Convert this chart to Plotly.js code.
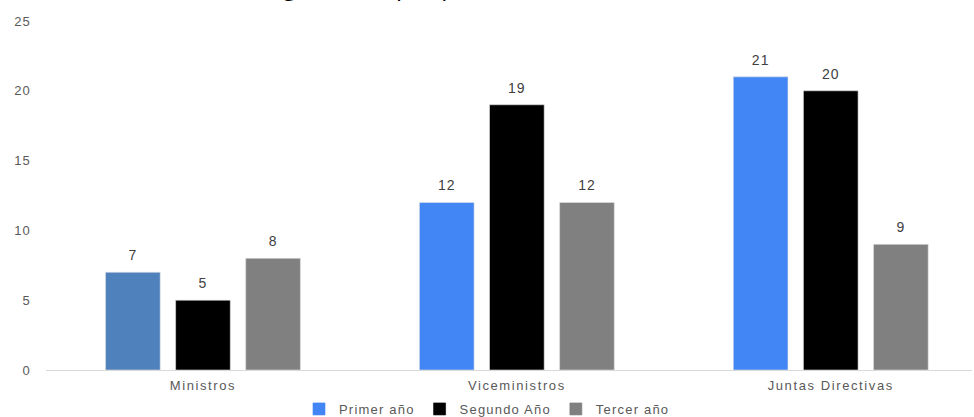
<!DOCTYPE html>
<html>
<head>
<meta charset="utf-8">
<script src="https://cdn.plot.ly/plotly-3.0.1.min.js"></script>
<style>
html,body{margin:0;padding:0;background:#fff;overflow:hidden}
.xtick text{letter-spacing:1.6px}
.ytick text{letter-spacing:1.2px}
.legendtext{letter-spacing:1.2px}
.bartext{letter-spacing:1px}
</style>
</head>
<body>
<div id="chart" style="width:974px;height:417px"></div>
<script>
const categories = ["Ministros", "Viceministros", "Juntas Directivas"];
const seriesNames = ["Primer año", "Segundo Año", "Tercer año"];
const primerAnio = [7, 12, 21];
const segundoAnio = [5, 19, 20];
const tercerAnio = [8, 12, 9];
const yTicks = [0, 5, 10, 15, 20, 25];
const titleText = "Nombramientos en el gobierno, por período";

const primerColors = ["#4F81BD", "#4285F4", "#4285F4"];
const legendColors = ["#4285F4", "#000000", "#808080"];
const FONT = "Liberation Sans, Arial, sans-serif";

function bar(name, values, color) {
  return {
    type: "bar",
    name: name,
    x: categories,
    y: values,
    text: values.map(String),
    textposition: "outside",
    textfont: {family: FONT, size: 14, color: "#404040"},
    cliponaxis: false,
    marker: {color: color, line: {color: "#e0e0e0", width: 0.6}},
    hoverinfo: "x+y+name"
  };
}

const data = [
  bar(seriesNames[0], primerAnio, primerColors),
  bar(seriesNames[1], segundoAnio, "#000000"),
  bar(seriesNames[2], tercerAnio, "#808080")
];

const layout = {
  width: 974,
  height: 417,
  margin: {l: 46, r: 2, t: 21, b: 47},
  paper_bgcolor: "#ffffff",
  plot_bgcolor: "#ffffff",
  barmode: "group",
  bargap: 0.33,
  bargroupgap: 0.22,
  font: {family: FONT, size: 13, color: "#595959"},
  showlegend: true,
  legend: {
    orientation: "h",
    x: 0.5, xanchor: "center", xref: "container",
    y: 1 - 409 / 417, yanchor: "middle", yref: "container",
    font: {family: FONT, size: 13, color: "#595959"},
    itemwidth: 30,
    tracegroupgap: 0
  },
  xaxis: {
    type: "category",
    range: [-0.5, 2.45],
    showline: true,
    linecolor: "#d9d9d9",
    linewidth: 1,
    ticks: "",
    ticklabelstandoff: 3,
    showgrid: false,
    zeroline: false,
    tickfont: {family: FONT, size: 13, color: "#595959"}
  },
  yaxis: {
    range: [0, 25],
    tickvals: yTicks,
    ticktext: yTicks.map(String),
    showgrid: false,
    zeroline: false,
    showline: false,
    ticks: "",
    ticklabelstandoff: 14,
    tickfont: {family: FONT, size: 13, color: "#595959"}
  },
  annotations: [{
    text: titleText,
    xref: "paper", yref: "paper",
    x: 0.254, xanchor: "center",
    y: 1.05, yanchor: "bottom",
    showarrow: false,
    font: {family: "Open Sans, sans-serif", size: 24, color: "#000000"}
  }]
};

Plotly.newPlot("chart", data, layout, {displayModeBar: false, staticPlot: true}).then(function (gd) {
  // lift value labels a little further above bars
  gd.querySelectorAll(".bartext").forEach(function (t) {
    const tr = t.getAttribute("transform") || "";
    t.setAttribute("transform", "translate(0,-6) " + tr);
  });
  // legend swatches in series main colours
  gd.querySelectorAll(".legend .traces").forEach(function (g, i) {
    g.querySelectorAll(".legendpoints path").forEach(function (p) {
      p.style.fill = legendColors[i];
      p.style.stroke = legendColors[i];
    });
  });
});
</script>
</body>
</html>
